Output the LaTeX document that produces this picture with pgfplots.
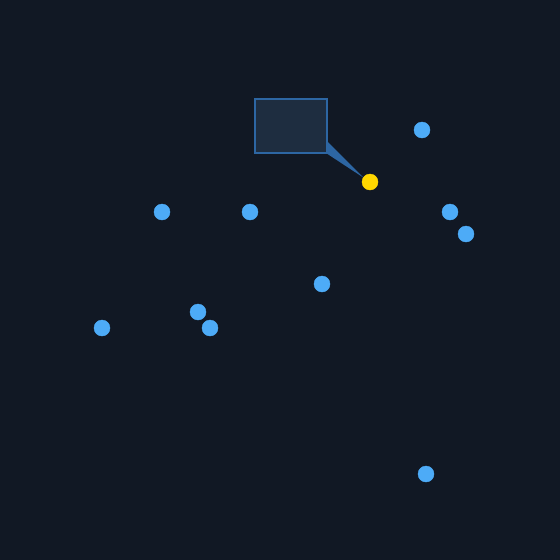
\documentclass[border=0pt]{standalone}
\usepackage{pgfplots}
\pgfplotsset{compat=1.18}
\definecolor{bg}{HTML}{111824}
\definecolor{dot}{HTML}{4DABF7}
\definecolor{hl}{HTML}{FFD700}
\definecolor{boxfill}{HTML}{1E2D40}
\definecolor{boxline}{HTML}{2D66A3}
\begin{document}
\begin{tikzpicture}
\begin{axis}[
  scale only axis, width=560pt, height=560pt,
  xmin=0, xmax=560, ymin=0, ymax=560, y dir=reverse,
  hide axis, clip=false,
]
\fill[bg] (axis cs:0,0) rectangle (axis cs:560,560);
\fill[boxline] (axis cs:326,140) -- (axis cs:364,178) -- (axis cs:326,153) -- cycle;
\draw[boxline, fill=boxfill, line width=1.5pt] (axis cs:255,99) rectangle (axis cs:327,153);
\addplot[only marks, mark=*, mark size=8pt, color=dot, mark options={draw=dot, fill=dot}] coordinates {
(422,130) (162,212) (250,212) (450,212) (466,234) (322,284) (198,312) (210,328) (102,328) (426,474)
};
\addplot[only marks, mark=*, mark size=8pt, color=hl, mark options={draw=hl, fill=hl}] coordinates {
(370,182)
};
\end{axis}
\end{tikzpicture}
\end{document}
